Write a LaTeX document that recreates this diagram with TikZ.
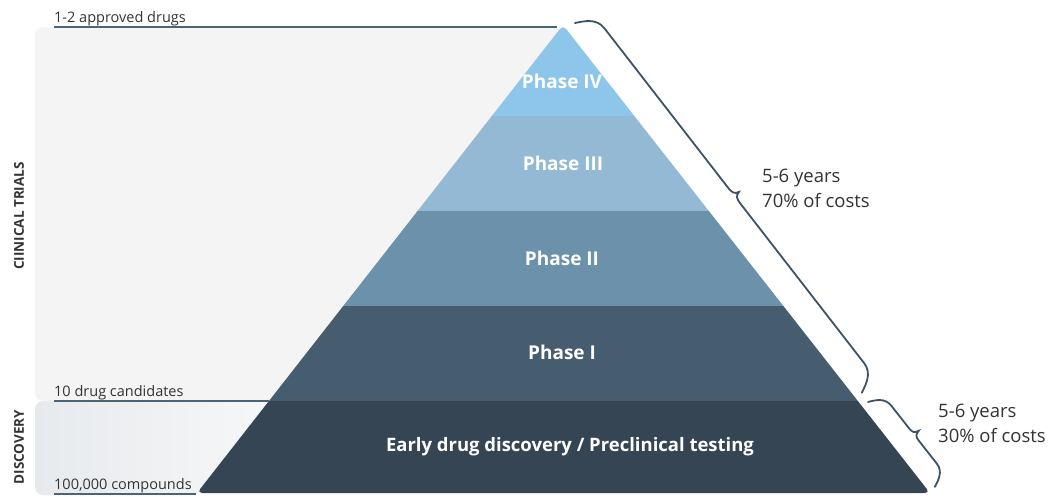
\documentclass[tikz,border=0pt]{standalone}
\usepackage{fontspec}
\setmainfont{Open Sans}
\usepackage{tikz}
\usetikzlibrary{calc}

\definecolor{phasefour}{HTML}{8EC5EA}
\definecolor{phasethree}{HTML}{93B9D4}
\definecolor{phasetwo}{HTML}{6B91AB}
\definecolor{phaseone}{HTML}{465C6F}
\definecolor{phasezero}{HTML}{354554}
\definecolor{panelgray}{HTML}{F4F4F4}
\definecolor{discleft}{HTML}{E7EAED}
\definecolor{discright}{HTML}{F6F7F8}
\definecolor{levelblue}{HTML}{4A6478}
\definecolor{bracegray}{HTML}{3E5266}
\definecolor{textgray}{HTML}{333333}

\begin{document}
\begin{tikzpicture}[x=1pt,y=-1pt,
  phase/.style={text=white,font=\bfseries\fontsize{19}{22}\selectfont},
  levelnote/.style={anchor=south west,inner xsep=0pt,inner ysep=1pt,text=textgray,font=\fontsize{14.5}{16}\selectfont},
  levelline/.style={levelblue,line width=1.3pt},
  sidetitle/.style={rotate=90,text=textgray,font=\bfseries\fontsize{13.5}{15}\selectfont},
  costnote/.style={anchor=west,align=left,inner sep=0pt,text=textgray,font=\fontsize{18.5}{25}\selectfont},
  bracepath/.style={bracegray,line width=1.8pt,line cap=round}]

\useasboundingbox (0,0) rectangle (1052,496);

\coordinate (apex) at (563,25);
\coordinate (baseleft) at (197,493);
\coordinate (baseright) at (930,493);
\coordinate (edgeleft) at (269,401);

\fill [panelgray,rounded corners=8] (35,401) -- (35,27) -- (563,27) -- (edgeleft) -- cycle;
\shade [left color=discleft,right color=discright,rounded corners=8] (35,401) -- (35,495) -- (199,495) -- (edgeleft) -- cycle;

\begin{scope}
\clip [rounded corners=5] (baseleft) -- (apex) -- (baseright) -- cycle;
\fill [phasefour] (150,0) rectangle (980,116);
\fill [phasethree] (150,116) rectangle (980,211);
\fill [phasetwo] (150,211) rectangle (980,306);
\fill [phaseone] (150,306) rectangle (980,401);
\fill [phasezero] (150,401) rectangle (980,500);
\end{scope}

\node [phase] (phaseIV) at (562,81) {Phase IV};
\node [phase] (phaseIII) at (563,163) {Phase III};
\node [phase] (phaseII) at (562,258) {Phase II};
\node [phase] (phaseI) at (562,352) {Phase I};
\node [phase,font=\bfseries\fontsize{18.5}{22}\selectfont] (early) at (570,447) {Early drug discovery / Preclinical testing};

\node [levelnote] (approved) at (54,27) {1-2 approved drugs};
\node [levelnote] (candidates) at (54,401) {10 drug candidates};
\node [levelnote] (compounds) at (54,494) {100,000 compounds};

\draw [levelline] (approved.south west) -- (557,27);
\draw [levelline] (candidates.south west) -- (edgeleft);
\draw [levelline] (compounds.south west) -- (196,494);

\node [sidetitle] (clinical) at (19,216) {CIINICAL TRIALS};
\node [sidetitle] (discovery) at (19,447) {DISCOVERY};

\node [costnote] (clinicalcost) at (762,188) {5-6 years\\70\% of costs};
\node [costnote] (discoverycost) at (938,423) {5-6 years\\30\% of costs};

\begin{scope}[shift={(575,23)},rotate=-52.2]
\draw [bracepath] (0,0) .. controls (4,-8) and (9,-20) .. (22,-20) -- (224,-20)
  .. controls (230,-20) and (233,-21) .. (234,-26) .. controls (235,-21) and (238,-20) .. (244,-20)
  -- (446,-20) .. controls (459,-20) and (464,-8) .. (468,0);
\end{scope}

\begin{scope}[shift={(868,402)},rotate=-51.8]
\draw [bracepath] (0,0) .. controls (3,-7) and (7,-16) .. (17,-16) -- (46,-16)
  .. controls (51,-16) and (53,-17) .. (54,-22) .. controls (55,-17) and (57,-16) .. (62,-16)
  -- (91,-16) .. controls (101,-16) and (105,-7) .. (108,0);
\end{scope}

\end{tikzpicture}
\end{document}
